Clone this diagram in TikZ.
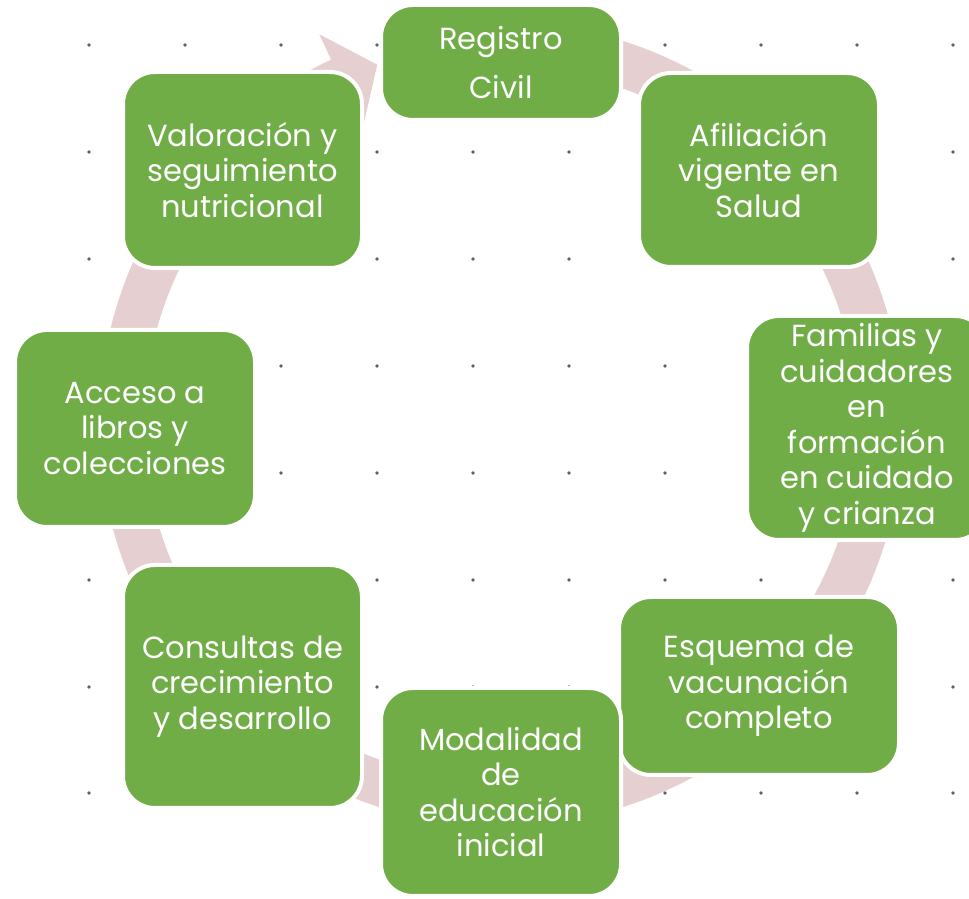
\documentclass[tikz,border=0pt]{standalone}
\usepackage{fontspec}
\setmainfont{Poppins}
\usetikzlibrary{calc}
\definecolor{boxgreen}{RGB}{112,173,71}
\definecolor{arrowpink}{RGB}{230,207,209}
\definecolor{dotgray}{RGB}{80,104,100}
\tikzset{
  cbox/.style={draw=white, line width=4pt, fill=boxgreen, rounded corners=32pt,
    text=white, align=center, inner sep=0pt, font=\fontsize{30.5}{35.5}\selectfont},
  ringarrow/.style={fill=arrowpink, draw=none},
  griddot/.style={fill=dotgray}
}
% #1 source angle, #2 head base angle, #3 tip angle
\newcommand{\ringarr}[3]{%
  \fill[ringarrow] ($(C)+(#1:402pt)$) arc[start angle=#1, end angle=#2, radius=402pt]
    -- ($(C)+(#2:430pt)$) -- ($(C)+(#3:380pt)$) -- ($(C)+(#2:327pt)$)
    -- ($(C)+(#2:357pt)$) arc[start angle=#2, end angle=#1, radius=357pt] -- cycle;}
\begin{document}
\begin{tikzpicture}[x=1pt,y=1pt]
\useasboundingbox (0,0) rectangle (969,899);
\clip (0,0) rectangle (969,899);
% dot grid
\foreach \gx in {89,185,281,377,473,569,665,761,857,953}{
  \foreach \gy in {854,747,640,533,426,319,212,106}{
    \fill[griddot] (\gx,\gy) circle (1.8pt);
  }
}
\coordinate (C) at (501,475);
% ring arrows (clockwise)
\ringarr{135}{115}{109}
\ringarr{90}{52}{45}
\ringarr{45}{13}{6}
\ringarr{0}{-33}{-40}
\ringarr{-45}{-78}{-85}
\ringarr{-90}{-123}{-130}
\ringarr{-135}{-168}{-175}
\ringarr{180}{147}{140}
% boxes
\node[cbox, minimum width=240pt, minimum height=115pt] (reg) at (501,836.5) {Registro\\[13pt]Civil};
\node[cbox, minimum width=240pt, minimum height=194pt] (afi) at (759,729) {Afiliación\\vigente en\\Salud};
\node[cbox, minimum width=240pt, minimum height=224pt] (fam) at (867,471) {Familias y\\cuidadores\\en\\formación\\en cuidado\\y crianza};
\node[cbox, minimum width=280pt, minimum height=178pt] (esq) at (759,213) {Esquema de\\vacunación\\completo};
\node[cbox, minimum width=240pt, minimum height=208pt] (mod) at (501,107) {Modalidad\\de\\educación\\inicial};
\node[cbox, minimum width=239pt, minimum height=243pt] (con) at (242.5,212.5) {Consultas de\\crecimiento\\y desarrollo};
\node[cbox, minimum width=240pt, minimum height=197pt] (acc) at (135,470.5) {Acceso a\\libros y\\colecciones};
\node[cbox, minimum width=239pt, minimum height=196pt] (val) at (242.5,729) {Valoración y\\seguimiento\\nutricional};
\end{tikzpicture}
\end{document}
